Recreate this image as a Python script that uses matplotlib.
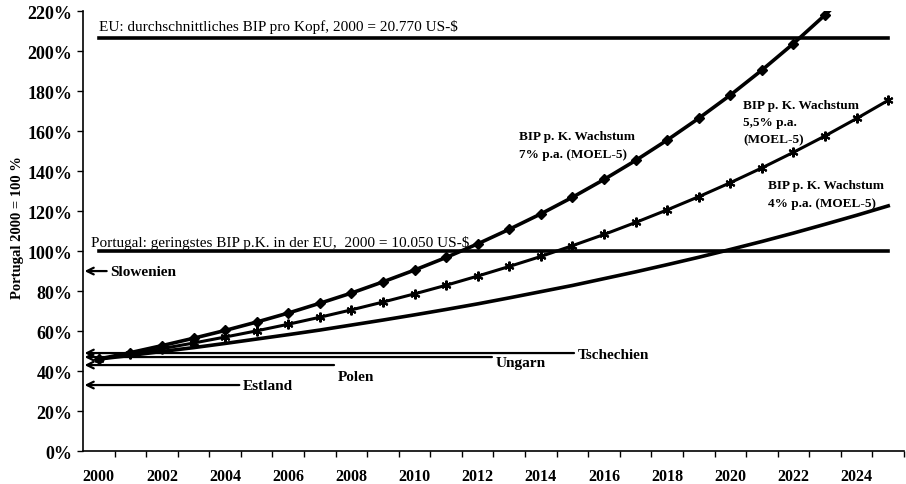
import matplotlib.pyplot as plt
from matplotlib.ticker import FixedLocator, NullFormatter

plt.rcParams['font.family'] = ['Liberation Serif', 'DejaVu Serif']

years = list(range(2000, 2026))
# BIP p.K. relativ zu Portugal 2000 (%), MOEL-5
growth_7 = [46, 49.2, 52.7, 56.4, 60.3, 64.5, 69.0, 73.9, 79.0, 84.6, 90.5, 96.8, 103.6,
            110.9, 118.6, 126.9, 135.8, 145.3, 155.5, 166.4, 178.0, 190.5, 203.8, 218.1,
            233.3, 249.7]
growth_55 = [46, 48.5, 51.2, 54.0, 57.0, 60.1, 63.4, 66.9, 70.6, 74.5, 78.6, 82.9, 87.5,
             92.3, 97.3, 102.7, 108.3, 114.3, 120.6, 127.2, 134.2, 141.6, 149.4, 157.6,
             166.3, 175.4]
growth_4 = [46, 47.8, 49.8, 51.7, 53.8, 56.0, 58.2, 60.5, 63.0, 65.5, 68.1, 70.8, 73.6,
            76.6, 79.7, 82.8, 86.2, 89.6, 93.2, 96.9, 100.8, 104.8, 109.0, 113.4, 117.9,
            122.6]
eu_level = 206.7
portugal_level = 100

countries = ['Slowenien', 'Tschechien', 'Ungarn', 'Polen', 'Estland']
country_values = [90, 49, 47, 43, 33]
# where each arrow starts (x) and label offset (y, in %)
arrow_end = [2000.25, 2015.05, 2012.45, 2007.45, 2004.45]
label_dy = [0, -0.5, -2.5, -5.5, 0]

fig = plt.figure(figsize=(9.06, 4.85), dpi=100)
ax = fig.add_axes([0.0916, 0.068, 0.9062, 0.907])

ax.plot(years, growth_7, color='black', lw=2.6, marker='D', ms=5.5, zorder=3)
ax.plot(years, growth_55, color='black', lw=2.2, marker=(6, 2, 0), ms=7, mew=1.5, zorder=3)
ax.plot(years, growth_4, color='black', lw=2.6, zorder=3)

ax.plot([2000, 2025], [eu_level, eu_level], color='black', lw=2.6)
ax.plot([2000, 2025], [portugal_level, portugal_level], color='black', lw=2.6)

ax.text(2000, eu_level + 2.5, 'EU: durchschnittliches BIP pro Kopf, 2000 = 20.770 US-$',
        fontsize=11, va='bottom', ha='left')
ax.text(1999.75, portugal_level + 1, 'Portugal: geringstes BIP p.K. in der EU,  2000 = 10.050 US-$',
        fontsize=11, va='bottom', ha='left')

for name, val, xe, dy in zip(countries, country_values, arrow_end, label_dy):
    ax.annotate('', xy=(1999.55, val), xytext=(xe, val),
                arrowprops=dict(arrowstyle='->', lw=1.6, color='black',
                                shrinkA=0, shrinkB=0, mutation_scale=12))
    ax.text(xe + 0.12, val + dy, name, fontsize=11, fontweight='bold', va='center', ha='left')

ax.text(2013.3, 153, 'BIP p. K. Wachstum\n7% p.a. (MOEL-5)', fontsize=9.5, fontweight='bold',
        ha='left', va='center', linespacing=1.6)
ax.text(2020.4, 164.5, 'BIP p. K. Wachstum\n5,5% p.a.\n(MOEL-5)', fontsize=9.5, fontweight='bold',
        ha='left', va='center', linespacing=1.6)
ax.text(2021.2, 128.5, 'BIP p. K. Wachstum\n4% p.a. (MOEL-5)', fontsize=9.5, fontweight='bold',
        ha='left', va='center', linespacing=1.6)

ax.set_xlim(1999.5, 2025.5)
ax.set_ylim(0, 220)
ax.set_yticks(range(0, 221, 20))
ax.set_yticklabels([f'{v}%' for v in range(0, 221, 20)], fontsize=13, fontweight='bold')
ax.set_xticks(range(2000, 2025, 2))
ax.set_xticklabels([str(y) for y in range(2000, 2025, 2)], fontsize=11.5, fontweight='bold')
ax.tick_params(axis='x', which='major', length=0, pad=12)
ax.xaxis.set_minor_locator(FixedLocator([y - 0.5 for y in range(2001, 2027)]))
ax.xaxis.set_minor_formatter(NullFormatter())
ax.tick_params(axis='x', which='minor', length=4, width=1)
ax.tick_params(axis='y', length=4, width=1)
ax.set_ylabel('Portugal 2000 = 100 %', fontsize=10.5, fontweight='bold', labelpad=4)
ax.yaxis.set_label_coords(-0.072, 0.51)

ax.spines['top'].set_visible(False)
ax.spines['right'].set_visible(False)
ax.spines['left'].set_linewidth(1.2)
ax.spines['bottom'].set_linewidth(1.2)

fig.savefig('out.png', dpi=100)
